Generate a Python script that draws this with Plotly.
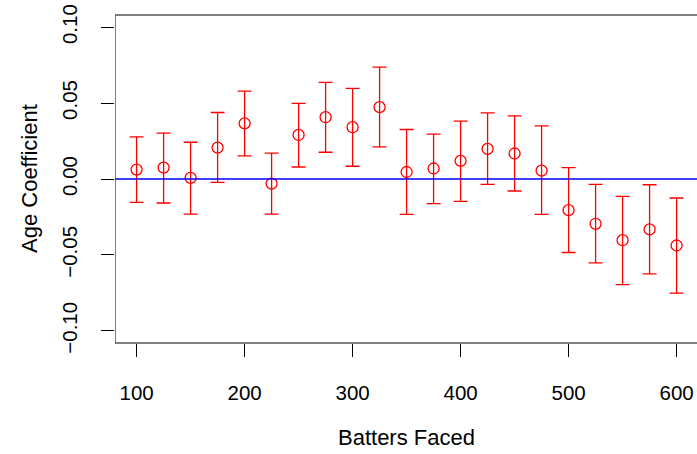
import numpy as np
import plotly.graph_objects as go

batters_faced = [100, 125, 150, 175, 200, 225, 250, 275, 300, 325, 350,
                 375, 400, 425, 450, 475, 500, 525, 550, 575, 600]
age_coef = [0.0062, 0.0075, 0.0007, 0.0207, 0.0366, -0.0030, 0.0290, 0.0407,
            0.0341, 0.0473, 0.0046, 0.0069, 0.0119, 0.0198, 0.0168, 0.0055,
            -0.0205, -0.0295, -0.0403, -0.0332, -0.0438]
upper_ci = [0.0277, 0.0302, 0.0242, 0.0438, 0.0579, 0.0170, 0.0498, 0.0636,
            0.0597, 0.0737, 0.0326, 0.0295, 0.0381, 0.0436, 0.0416, 0.0350,
            0.0075, -0.0035, -0.0114, -0.0038, -0.0125]
lower_ci = [-0.0154, -0.0158, -0.0231, -0.0022, 0.0152, -0.0231, 0.0079, 0.0176,
            0.0084, 0.0211, -0.0233, -0.0162, -0.0147, -0.0035, -0.0079, -0.0233,
            -0.0484, -0.0552, -0.0695, -0.0625, -0.0751]

x_ticks = [100, 200, 300, 400, 500, 600]
y_ticks = [-0.10, -0.05, 0.00, 0.05, 0.10]
y_ticktext = ["\u22120.10", "\u22120.05", "0.00", "0.05", "0.10"]

y = np.array(age_coef)
err_plus = np.array(upper_ci) - y
err_minus = y - np.array(lower_ci)

FONT = "Liberation Sans, Arial, sans-serif"
FS = 20.5

fig = go.Figure()
fig.add_trace(go.Scatter(
    x=batters_faced, y=age_coef, mode="markers",
    marker=dict(symbol="circle-open", size=11, color="#FF0000",
                line=dict(color="#FF0000", width=1.3)),
    error_y=dict(type="data", symmetric=False, array=err_plus,
                 arrayminus=err_minus, color="#FF0000", thickness=1.3, width=7),
    cliponaxis=False, showlegend=False,
))

fig.update_layout(
    width=697, height=454,
    margin=dict(l=115, r=0, t=15, b=111),
    paper_bgcolor="white", plot_bgcolor="white",
    font=dict(family=FONT, size=FS, color="black"),
    xaxis=dict(range=[80, 618.9], tickvals=x_ticks, ticks="outside", ticklen=13,
               tickwidth=1, tickcolor="black", showgrid=False, zeroline=False,
               showline=False, ticklabelstandoff=18,
               tickfont=dict(family=FONT, size=FS, color="black")),
    yaxis=dict(range=[-0.108, 0.108], tickvals=y_ticks, ticktext=y_ticktext,
               ticks="outside", ticklen=13, tickwidth=1, tickcolor="black",
               showgrid=False, zeroline=False, showline=False, tickangle=-90,
               ticklabelstandoff=16,
               tickfont=dict(family=FONT, size=FS, color="black")),
    shapes=[
        dict(type="rect", xref="x", yref="paper", x0=80, x1=620, y0=0, y1=1,
             line=dict(color="black", width=1), layer="above"),
        dict(type="line", xref="paper", yref="y", x0=0, x1=1, y0=0, y1=0,
             line=dict(color="#0000FF", width=1.3), layer="above"),
    ],
    annotations=[
        dict(text="Batters Faced", xref="paper", yref="paper", x=0.5, y=0,
             yshift=-94, showarrow=False, xanchor="center", yanchor="middle",
             font=dict(family=FONT, size=22, color="black")),
        dict(text="Age Coefficient", xref="paper", yref="paper", x=0, y=0.5,
             xshift=-86, showarrow=False, xanchor="center", yanchor="middle",
             textangle=-90, font=dict(family=FONT, size=22, color="black")),
    ],
)

fig.write_html("out.html")
